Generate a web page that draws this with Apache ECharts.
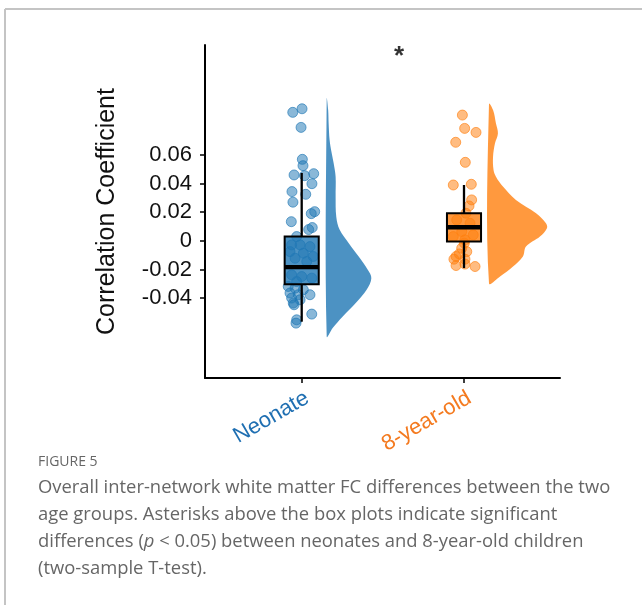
<!DOCTYPE html>
<html>
<head>
<meta charset="utf-8">
<script src="https://cdn.jsdelivr.net/npm/echarts@6/dist/echarts.min.js"></script>
<style>
html,body{margin:0;padding:0;background:#fff;}
#chart{width:642px;height:605px;}
</style>
</head>
<body>
<div id="chart"></div>
<script>
// ---- data ----
const categories = ['Neonate', '8-year-old'];
const yTickValues = [-0.04, -0.02, 0, 0.02, 0.04, 0.06];

// individual observations (value) and horizontal jitter (fraction of category spacing)
const neonateValues = [0.0897, 0.0922, 0.0792, 0.0569, 0.0525, 0.046, 0.0455, 0.0469, 0.0399, 0.0344,
  0.0325, 0.027, 0.0204, 0.019, 0.0134, 0.0093, 0.0079, 0.003, -0.0028, -0.0028,
  -0.004, -0.0075, -0.0086, -0.0109, -0.0121, -0.0144, -0.0237, -0.0249, -0.026, -0.0284,
  -0.0318, -0.033, -0.0341, -0.0364, -0.0376, -0.0376, -0.0399, -0.0411, -0.0434, -0.0446,
  -0.0511, -0.0551, -0.0574];
const neonateJitter = [-0.055, 0.002, -0.004, 0.004, 0.008, -0.047, 0.018, 0.074, 0.063, -0.060,
  0.025, -0.054, 0.080, 0.059, -0.064, 0.065, 0.043, -0.031, -0.062, -0.010,
  0.051, -0.072, 0.010, 0.071, -0.041, 0.031, -0.062, 0.000, 0.062, -0.031,
  -0.083, -0.041, 0.010, -0.072, -0.021, 0.051, -0.062, -0.010, -0.052, -0.047,
  0.062, -0.031, -0.035];
const olderValues = [0.0878, 0.0785, 0.0757, 0.0688, 0.0548, 0.039, 0.0395, 0.0286, 0.0244, 0.0193,
  0.0146, 0.0123, 0.0065, 0.0042, 0.003, 0.0007, -0.0016, -0.0051, -0.0075, -0.0091,
  -0.0109, -0.0128, -0.0128, -0.0172, -0.0162, -0.0179];
const olderJitter = [-0.010, 0.004, 0.074, -0.051, 0.008, -0.066, 0.045, 0.047, 0.031, 0.012,
  -0.045, 0.037, -0.014, 0.057, -0.066, 0.006, 0.002, -0.014, 0.017, -0.029,
  -0.049, -0.062, 0.006, -0.049, 0.006, 0.068];

// box statistics: [lower whisker, Q1, median, Q3, upper whisker]
const neonateBox = [-0.0564, -0.0302, -0.0183, 0.003, 0.0474];
const olderBox = [-0.019, -0.0005, 0.0095, 0.0193, 0.039];

// half-violin density: value grid and density (in category-spacing units)
const neonateDensY = [0.0994, 0.0913, 0.082, 0.0704, 0.0611, 0.0541, 0.0448, 0.0309, 0.0169, 0.0077,
  -0.0016, -0.0109, -0.0202, -0.026, -0.0341, -0.0434, -0.0528, -0.0608, -0.0667];
const neonateDens = [0, 0.009, 0.012, 0.018, 0.031, 0.043, 0.055, 0.055, 0.059, 0.080,
  0.136, 0.197, 0.253, 0.275, 0.246, 0.179, 0.099, 0.037, 0];
const olderDensY = [0.0955, 0.0913, 0.082, 0.075, 0.0681, 0.0588, 0.0495, 0.0448, 0.0379, 0.0286,
  0.0193, 0.0123, 0.0088, 0.003, -0.004, -0.0109, -0.0179, -0.0249, -0.0295];
const olderDens = [0, 0.025, 0.043, 0.055, 0.037, 0.025, 0.028, 0.043, 0.086, 0.166,
  0.290, 0.351, 0.357, 0.314, 0.228, 0.209, 0.148, 0.068, 0];

// significance annotation
const sigLabel = '*';
const sigPos = [1.6, 0.1285];

// ---- chart ----
const BLUE = '#1f77b4', ORANGE = '#ff7f0e';
const groupColors = [BLUE, ORANGE];
const labelColors = ['#1f6fb2', '#f47a1f'];
const boxes = [neonateBox, olderBox];
const densY = [neonateDensY, olderDensY];
const dens = [neonateDens, olderDens];
const BOX_HALF = 0.105, DENS_OFFSET = 0.154;
const FONT = '"Liberation Sans", Arial, sans-serif';

function rgba(hex, a) {
  const n = parseInt(hex.slice(1), 16);
  return 'rgba(' + (n >> 16) + ',' + ((n >> 8) & 255) + ',' + (n & 255) + ',' + a + ')';
}

const chart = echarts.init(document.getElementById('chart'), null, {renderer: 'canvas'});
const option = {
  animation: false,
  backgroundColor: '#fff',
  grid: {left: 205, right: 82, top: 45, bottom: 227, containLabel: false},
  xAxis: {
    type: 'value', min: 0.4042, max: 2.5915,
    splitLine: {show: false},
    axisLine: {onZero: false, lineStyle: {color: '#000', width: 2}},
    axisTick: {customValues: [1, 2], length: 5, lineStyle: {color: '#000', width: 1.5}},
    axisLabel: {
      customValues: [1, 2], rotate: 30, margin: 9,
      align: 'right', verticalAlign: 'top',
      fontSize: 22, fontFamily: FONT,
      formatter: v => categories[Math.round(v) - 1],
      color: v => labelColors[Math.round(Number(v)) - 1]
    }
  },
  yAxis: {
    type: 'value', min: -0.0957, max: 0.1367,
    splitLine: {show: false},
    axisLine: {onZero: false, lineStyle: {color: '#000', width: 2}},
    axisTick: {customValues: yTickValues, length: 5, lineStyle: {color: '#000', width: 1.5}},
    axisLabel: {
      customValues: yTickValues, margin: 13,
      fontSize: 22, color: '#111', fontFamily: FONT,
      formatter: v => (Math.abs(v) < 1e-9 ? '0' : Number(v).toFixed(2))
    },
    name: 'Correlation Coefficient', nameLocation: 'middle', nameRotate: 90, nameGap: 85,
    nameTextStyle: {fontSize: 25, color: '#111', fontFamily: FONT}
  },
  series: [
    {
      type: 'custom', name: 'density', z: 1,
      data: [[1, 0], [2, 0]],
      renderItem: function (params, api) {
        const g = params.dataIndex, cx = g + 1;
        const pts = densY[g].map((y, i) => api.coord([cx + DENS_OFFSET + dens[g][i], y]));
        return {type: 'polygon', shape: {points: pts, smooth: 0.35},
          style: {fill: rgba(groupColors[g], 0.8), stroke: null}};
      }
    },
    {
      type: 'scatter', name: categories[0], z: 2, symbolSize: 10,
      data: neonateValues.map((v, i) => [1 + neonateJitter[i], v]),
      itemStyle: {color: rgba(BLUE, 0.65), borderColor: rgba(BLUE, 0.8), borderWidth: 1}
    },
    {
      type: 'scatter', name: categories[1], z: 2, symbolSize: 10,
      data: olderValues.map((v, i) => [2 + olderJitter[i], v]),
      itemStyle: {color: rgba(ORANGE, 0.65), borderColor: rgba(ORANGE, 0.8), borderWidth: 1}
    },
    {
      type: 'custom', name: 'box', z: 3,
      data: [[1, 0], [2, 0]],
      renderItem: function (params, api) {
        const g = params.dataIndex, cx = g + 1, s = boxes[g];
        const pLow = api.coord([cx, s[0]]), pQ1 = api.coord([cx, s[1]]), pMed = api.coord([cx, s[2]]);
        const pQ3 = api.coord([cx, s[3]]), pHigh = api.coord([cx, s[4]]);
        const L = api.coord([cx - BOX_HALF, 0])[0], R = api.coord([cx + BOX_HALF, 0])[0];
        return {type: 'group', children: [
          {type: 'line', shape: {x1: pHigh[0], y1: pHigh[1], x2: pQ3[0], y2: pQ3[1]}, style: {stroke: '#000', lineWidth: 2.3}},
          {type: 'line', shape: {x1: pLow[0], y1: pLow[1], x2: pQ1[0], y2: pQ1[1]}, style: {stroke: '#000', lineWidth: 2.3}},
          {type: 'rect', shape: {x: L, y: pQ3[1], width: R - L, height: pQ1[1] - pQ3[1]},
            style: {fill: rgba(groupColors[g], 0.8), stroke: '#000', lineWidth: 2}},
          {type: 'line', shape: {x1: L, y1: pMed[1], x2: R, y2: pMed[1]}, style: {stroke: '#000', lineWidth: 4.3}}
        ]};
      }
    },
    {
      type: 'scatter', name: 'significance', z: 4, symbolSize: 0, silent: true,
      data: [sigPos],
      label: {show: true, position: 'inside', formatter: sigLabel, fontSize: 26, fontWeight: 'bold', color: '#000',
        fontFamily: FONT}
    }
  ],
  graphic: [
    {type: 'line', shape: {x1: 5, y1: 9, x2: 642, y2: 9}, style: {stroke: '#c4c4c4', lineWidth: 2}, silent: true},
    {type: 'line', shape: {x1: 5, y1: 9, x2: 5, y2: 605}, style: {stroke: '#c4c4c4', lineWidth: 2}, silent: true},
    {type: 'text', x: 38, y: 462, style: {text: 'FIGURE 5', font: '14px "Open Sans"', fill: '#666', verticalAlign: 'middle'}},
    {type: 'text', x: 38, y: 488, style: {text: 'Overall inter-network white matter FC differences between the two', font: '18.4px "Open Sans"', fill: '#666', verticalAlign: 'middle'}},
    {type: 'text', x: 38, y: 515, style: {text: 'age groups. Asterisks above the box plots indicate significant', font: '18.4px "Open Sans"', fill: '#666', verticalAlign: 'middle'}},
    {type: 'text', x: 38, y: 542, style: {text: 'differences ({i|p} < 0.05) between neonates and 8-year-old children', font: '18.4px "Open Sans"', fill: '#666', verticalAlign: 'middle',
      rich: {i: {fontStyle: 'italic', fontSize: 18.4, fontFamily: 'Open Sans', fill: '#666'}}}},
    {type: 'text', x: 38, y: 569, style: {text: '(two-sample T-test).', font: '18.4px "Open Sans"', fill: '#666', verticalAlign: 'middle'}}
  ]
};
chart.setOption(option);
</script>
</body>
</html>
